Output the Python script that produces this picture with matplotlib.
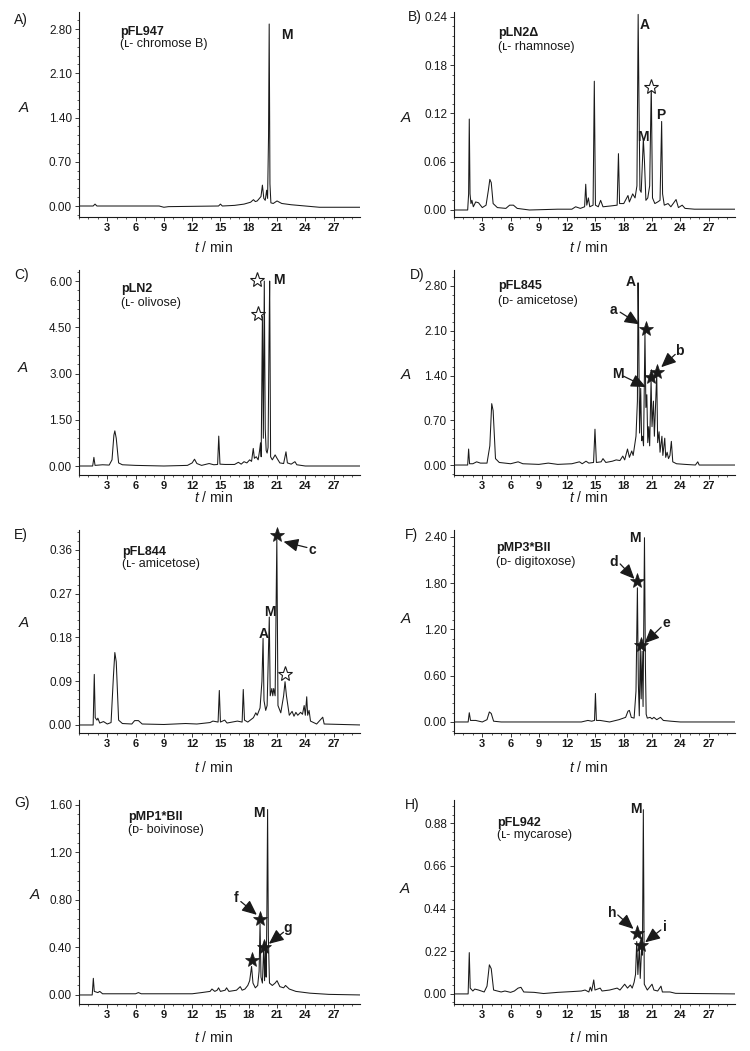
import matplotlib
matplotlib.use("Agg")
import matplotlib.pyplot as plt
import numpy as np
from matplotlib.ticker import MultipleLocator, FormatStrFormatter

plt.rcParams["font.family"] = ["Liberation Sans", "DejaVu Sans"]
plt.rcParams["mathtext.fontset"] = "custom"
plt.rcParams["mathtext.it"] = "Liberation Sans:italic"
plt.rcParams["mathtext.rm"] = "Liberation Sans"

# HPLC traces, (t / min, A) points
trace_a = [(0, 0.0), (1.5, 0.0), (1.7, 0.03), (1.9, 0.0), (8.5, 0.0), (9.0, -0.02), (9.5, -0.01),
           (14.8, 0.0), (15.0, 0.03), (15.2, 0.0), (16.5, 0.01), (17.5, 0.03), (18.2, 0.06),
           (18.5, 0.10), (18.7, 0.07), (18.9, 0.08), (19.3, 0.15), (19.45, 0.33), (19.6, 0.12),
           (19.75, 0.09), (19.9, 0.25), (20.0, 0.12), (20.1, 1.1), (20.17, 2.88), (20.25, 0.35),
           (20.35, 0.05), (20.6, 0.04), (21.0, 0.08), (21.5, 0.04), (22.5, 0.02), (24.0, 0.0),
           (25.5, -0.02), (29.9, -0.02)]

trace_b = [(0, 0.0), (1.45, 0.0), (1.55, 0.02), (1.62, 0.113), (1.7, 0.02), (1.8, 0.008),
           (1.9, 0.012), (2.05, 0.004), (2.3, 0.010), (2.6, 0.009), (3.0, 0.003), (3.4, 0.006),
           (3.65, 0.025), (3.8, 0.038), (3.95, 0.034), (4.15, 0.008), (4.6, 0.003), (5.5, 0.002),
           (5.9, 0.006), (6.3, 0.006), (6.7, 0.002), (8.0, 0.0), (11.0, 0.001), (12.5, 0.001),
           (12.9, 0.004), (13.4, 0.002), (13.85, 0.004), (13.97, 0.032), (14.08, 0.006),
           (14.25, 0.015), (14.4, 0.004), (14.75, 0.006), (14.88, 0.16), (15.0, 0.006),
           (15.3, 0.004), (15.55, 0.012), (15.8, 0.004), (16.6, 0.005), (17.3, 0.006),
           (17.44, 0.07), (17.56, 0.008), (18.0, 0.008), (18.45, 0.018), (18.6, 0.01),
           (18.95, 0.02), (19.2, 0.015), (19.4, 0.03), (19.53, 0.243), (19.62, 0.13),
           (19.72, 0.025), (19.85, 0.022), (20.08, 0.088), (20.2, 0.06), (20.35, 0.012),
           (20.55, 0.015), (20.75, 0.03), (20.92, 0.155), (21.05, 0.015), (21.3, 0.008),
           (21.6, 0.01), (21.85, 0.012), (22.02, 0.11), (22.12, 0.02), (22.3, 0.006),
           (22.7, 0.008), (23.0, 0.004), (23.55, 0.013), (23.8, 0.003), (24.2, 0.006),
           (24.5, 0.002), (25.5, 0.001), (29.9, 0.001)]

trace_c = [(0, 0.0), (1.45, 0.0), (1.58, 0.28), (1.7, 0.02), (2.5, 0.04), (3.2, 0.03), (3.5, 0.2),
           (3.7, 1.0), (3.8, 1.14), (3.95, 0.9), (4.2, 0.1), (4.6, 0.04), (6.0, 0.02), (9.0, 0.0),
           (11.5, 0.02), (12.0, 0.1), (12.25, 0.22), (12.5, 0.08), (13.0, 0.02), (13.8, 0.08),
           (14.3, 0.04), (14.7, 0.05), (14.82, 0.97), (14.95, 0.06), (15.5, 0.05), (16.5, 0.05),
           (16.9, 0.12), (17.2, 0.06), (17.5, 0.14), (17.8, 0.1), (18.1, 0.2), (18.3, 0.15),
           (18.48, 0.57), (18.6, 0.25), (18.8, 0.3), (19.0, 0.2), (19.15, 0.5), (19.25, 0.75),
           (19.32, 0.3), (19.45, 4.85), (19.55, 0.9), (19.65, 6.0), (19.75, 1.2), (19.85, 0.5),
           (19.95, 0.42), (20.05, 0.6), (20.15, 4.0), (20.22, 6.0), (20.32, 0.3), (20.5, 0.2),
           (20.8, 0.36), (21.0, 0.25), (21.3, 0.1), (21.7, 0.08), (21.95, 0.46), (22.1, 0.1),
           (22.5, 0.06), (22.9, 0.14), (23.1, 0.04), (24.0, 0.0), (29.9, 0.0)]

trace_d = [(0, 0.0), (1.45, 0.0), (1.55, 0.25), (1.65, 0.02), (2.0, 0.02), (2.4, 0.05), (2.8, 0.03),
           (3.5, 0.03), (3.8, 0.3), (4.0, 0.96), (4.15, 0.85), (4.4, 0.1), (4.8, 0.04), (6.0, 0.02),
           (6.8, 0.05), (7.3, 0.02), (9.0, 0.01), (10.0, 0.03), (11.0, 0.01), (12.5, 0.02),
           (13.3, 0.05), (13.6, 0.02), (14.0, 0.06), (14.3, 0.03), (14.8, 0.04), (14.95, 0.56),
           (15.1, 0.04), (15.6, 0.05), (15.8, 0.1), (16.1, 0.04), (16.8, 0.06), (17.2, 0.08),
           (17.6, 0.07), (17.9, 0.14), (18.1, 0.08), (18.4, 0.25), (18.6, 0.12), (18.85, 0.22),
           (19.0, 0.15), (19.15, 0.3), (19.3, 0.45), (19.45, 1.0), (19.52, 2.85), (19.58, 2.2),
           (19.68, 0.5), (19.8, 1.2), (19.9, 0.38), (20.0, 0.45), (20.1, 0.3), (20.25, 2.06),
           (20.35, 0.9), (20.45, 1.1), (20.55, 0.35), (20.65, 0.6), (20.75, 0.3), (20.9, 1.33),
           (21.0, 0.6), (21.15, 1.0), (21.25, 0.45), (21.5, 1.42), (21.6, 0.35), (21.75, 0.52),
           (21.85, 0.2), (22.05, 0.45), (22.15, 0.15), (22.35, 0.42), (22.45, 0.12), (22.6, 0.2),
           (22.75, 0.1), (22.9, 0.15), (23.05, 0.37), (23.2, 0.05), (23.6, 0.02), (24.5, 0.01),
           (25.6, 0.0), (25.85, 0.05), (26.0, 0.0), (29.9, 0.0)]

trace_e = [(0, 0.0), (1.5, 0.0), (1.62, 0.104), (1.72, 0.015), (1.9, 0.01), (2.0, 0.014),
           (2.2, 0.004), (2.6, 0.007), (3.0, 0.002), (3.4, 0.005), (3.65, 0.1), (3.8, 0.149),
           (3.95, 0.13), (4.2, 0.01), (4.6, 0.003), (5.6, 0.002), (5.9, 0.009), (6.3, 0.009),
           (6.7, 0.002), (9.0, 0.001), (11.3, 0.003), (12.5, 0.002), (13.9, 0.005), (14.2, 0.008),
           (14.75, 0.006), (14.88, 0.071), (15.0, 0.006), (15.45, 0.01), (15.7, 0.004),
           (16.8, 0.008), (17.3, 0.006), (17.42, 0.073), (17.55, 0.01), (17.9, 0.006),
           (18.5, 0.015), (18.75, 0.025), (18.9, 0.02), (19.2, 0.035), (19.4, 0.09),
           (19.52, 0.178), (19.62, 0.05), (19.8, 0.03), (19.95, 0.04), (20.18, 0.222),
           (20.28, 0.06), (20.45, 0.075), (20.55, 0.06), (20.65, 0.075), (20.8, 0.06),
           (20.98, 0.385), (21.1, 0.04), (21.4, 0.025), (21.7, 0.06), (21.85, 0.089), (22.0, 0.06),
           (22.3, 0.02), (22.6, 0.028), (22.8, 0.018), (23.0, 0.026), (23.2, 0.02), (23.5, 0.026),
           (23.7, 0.022), (23.88, 0.04), (24.0, 0.02), (24.15, 0.058), (24.25, 0.02), (24.4, 0.03),
           (24.55, 0.008), (25.2, 0.002), (25.85, 0.016), (26.0, 0.002), (29.9, 0.0)]

trace_f = [(0, 0.0), (1.5, 0.0), (1.62, 0.12), (1.75, 0.02), (2.3, 0.02), (3.0, 0.0), (3.5, 0.03),
           (3.75, 0.13), (3.95, 0.11), (4.2, 0.01), (5.0, 0.0), (13.5, 0.0), (14.2, 0.02),
           (14.6, 0.01), (14.9, 0.02), (15.0, 0.37), (15.1, 0.02), (15.5, 0.02), (16.5, 0.0),
           (17.5, 0.03), (18.2, 0.06), (18.45, 0.14), (18.6, 0.15), (18.8, 0.06), (19.1, 0.05),
           (19.3, 0.4), (19.45, 1.74), (19.55, 0.5), (19.65, 0.08), (19.75, 0.98), (19.85, 0.3),
           (19.95, 0.92), (20.05, 0.2), (20.2, 2.39), (20.3, 0.72), (20.38, 0.1), (20.5, 0.05),
           (20.8, 0.06), (21.0, 0.04), (21.2, 0.06), (21.5, 0.03), (21.9, 0.06), (22.2, 0.02),
           (23.0, 0.01), (24.0, 0.0), (29.9, 0.0)]

trace_g = [(0, 0.0), (1.4, 0.0), (1.52, 0.14), (1.62, 0.03), (2.0, 0.02), (2.2, 0.03), (2.5, 0.01),
           (4.0, 0.01), (6.0, 0.01), (6.3, 0.02), (6.6, 0.01), (9.0, 0.01), (12.0, 0.01),
           (13.0, 0.02), (13.9, 0.03), (14.1, 0.05), (14.4, 0.03), (14.65, 0.04), (14.8, 0.06),
           (15.0, 0.03), (15.5, 0.04), (15.65, 0.06), (15.9, 0.03), (16.7, 0.04), (17.1, 0.07),
           (17.3, 0.04), (17.6, 0.05), (17.9, 0.08), (18.1, 0.12), (18.3, 0.24), (18.45, 0.1),
           (18.7, 0.06), (18.95, 0.08), (19.1, 0.2), (19.2, 0.6), (19.3, 0.15), (19.45, 0.1),
           (19.6, 0.43), (19.68, 0.12), (19.78, 0.38), (19.85, 0.15), (19.92, 0.66), (20.0, 1.56),
           (20.08, 0.5), (20.2, 0.1), (20.5, 0.08), (20.8, 0.1), (21.0, 0.12), (21.3, 0.07),
           (21.7, 0.06), (21.9, 0.08), (22.3, 0.05), (23.0, 0.03), (24.5, 0.015), (26.5, 0.005),
           (29.9, 0.0)]

trace_h = [(0, 0.0), (1.5, 0.0), (1.62, 0.213), (1.72, 0.03), (2.0, 0.015), (2.2, 0.025),
           (2.6, 0.02), (3.2, 0.01), (3.5, 0.04), (3.75, 0.15), (3.95, 0.13), (4.2, 0.02),
           (5.0, 0.01), (5.4, 0.015), (6.0, 0.008), (6.4, 0.015), (6.8, 0.03), (7.1, 0.034),
           (7.4, 0.01), (8.5, 0.008), (9.5, 0.002), (11.0, 0.008), (12.5, 0.012), (13.5, 0.015),
           (13.9, 0.02), (14.3, 0.01), (14.45, 0.035), (14.6, 0.015), (14.82, 0.072),
           (14.95, 0.02), (15.5, 0.03), (15.7, 0.015), (16.5, 0.02), (17.3, 0.03), (17.6, 0.02),
           (18.1, 0.05), (18.4, 0.03), (18.7, 0.046), (18.9, 0.03), (19.1, 0.06), (19.25, 0.1),
           (19.38, 0.27), (19.5, 0.1), (19.66, 0.25), (19.75, 0.08), (19.9, 0.24), (19.98, 0.2),
           (20.08, 0.95), (20.18, 0.05), (20.5, 0.02), (21.0, 0.05), (21.2, 0.02), (21.6, 0.015),
           (21.95, 0.04), (22.1, 0.01), (22.9, 0.01), (23.5, 0.003), (29.9, 0.0)]

traces = [trace_a, trace_b, trace_c, trace_d, trace_e, trace_f, trace_g, trace_h]

panel_letters = ["A)", "B)", "C)", "D)", "E)", "F)", "G)", "H)"]
plasmids = ["pFL947", "pLN2Δ", "pLN2", "pFL845", "pFL844", "pMP3*BII", "pMP1*BII", "pFL942"]
sugars = ["(ʟ- chromose B)", "(ʟ- rhamnose)", "(ʟ- olivose)", "(ᴅ- amicetose)",
          "(ʟ- amicetose)", "(ᴅ- digitoxose)", "(ᴅ- boivinose)", "(ʟ- mycarose)"]
y_steps = [0.70, 0.06, 1.50, 0.70, 0.09, 0.60, 0.40, 0.22]
y_limits = [(-0.174, 3.07), (-0.0087, 0.246), (-0.292, 6.36), (-0.156, 3.05),
            (-0.0165, 0.401), (-0.143, 2.49), (-0.076, 1.64), (-0.052, 1.0)]

# peak labels (text, t, A)
peak_labels = [
    [("M", 22.0, 2.71)],
    [("A", 20.27, 0.230), ("M", 20.03, 0.091), ("P", 21.97, 0.118)],
    [("M", 21.16, 6.02)],
    [("A", 18.75, 2.86), ("a", 16.9, 2.42), ("M", 17.37, 1.43), ("b", 23.89, 1.79)],
    [("c", 24.77, 0.36), ("M", 20.2, 0.233), ("A", 19.57, 0.188)],
    [("M", 19.2, 2.38), ("d", 16.91, 2.08), ("e", 22.47, 1.28)],
    [("M", 19.04, 1.53), ("f", 16.66, 0.814), ("g", 22.12, 0.561)],
    [("M", 19.28, 0.952), ("h", 16.73, 0.419), ("i", 22.4, 0.347)],
]
open_stars = [[], [(20.91, 0.153)], [(18.86, 6.05), (18.96, 4.94)], [], [(21.87, 0.104)], [], [], []]
filled_stars = [[], [], [], [(20.35, 2.12), (20.91, 1.37), (21.55, 1.46)], [(20.98, 0.391)],
                [(19.46, 1.825), (19.81, 0.995)],
                [(19.21, 0.637), (18.33, 0.295), (19.67, 0.407)],
                [(19.39, 0.313), (19.81, 0.253)]]
# arrows (tail, tip)
arrows = [[], [], [],
          [((17.62, 2.39), (19.67, 2.20)), ((17.97, 1.39), (20.35, 1.22)), ((23.46, 1.73), (21.97, 1.53))],
          [((24.17, 0.365), (21.69, 0.377))],
          [((17.62, 2.05), (19.14, 1.855)), ((21.97, 1.23), (20.2, 1.02))],
          [((17.16, 0.786), (18.86, 0.674)), ((21.69, 0.528), (20.13, 0.43))],
          [((17.37, 0.407), (19.04, 0.335)), ((21.94, 0.33), (20.27, 0.266))]]

# layout in pixels of the 750x1051 figure
W, H = 750, 1051
row_px = [(12, 217), (270, 475), (530, 733), (800, 1004)]
col_px = [79, 454]
ax_w = 281
xlabel_gap = [31, 23, 35, 33]
# plasmid line y (px from top) and sugar line y, x as axes fraction
title_pos = [(0.146, 32, 44), (0.157, 33, 47), (0.149, 289, 303), (0.157, 286, 301),
             (0.153, 552, 564), (0.149, 548, 562), (0.174, 817, 830), (0.153, 823, 835)]
letter_px = [(14, 20), (408, 17), (14, 275), (410, 275), (14, 535), (405, 535), (14, 803), (405, 805)]
ylabel_px = [(18, 108), (400, 118), (17, 368), (400, 375), (18, 623), (400, 619), (29, 895), (399, 889)]

fig = plt.figure(figsize=(W / 100, H / 100), dpi=100)
ink = "#1a1a1a"

for i, trace in enumerate(traces):
    r, c = divmod(i, 2)
    top, bot = row_px[r]
    ax = fig.add_axes([col_px[c] / W, 1 - bot / H, ax_w / W, (bot - top) / H])
    t, a = np.array(trace).T
    ax.plot(t, a, color=ink, lw=0.75)

    ax.set_xlim(0, 29.8)
    ax.set_ylim(*y_limits[i])
    ax.set_xticks(range(3, 28, 3))
    ax.xaxis.set_minor_locator(MultipleLocator(1))
    ax.set_yticks(np.arange(5) * y_steps[i])
    ax.yaxis.set_minor_locator(MultipleLocator(y_steps[i] / 5))
    ax.yaxis.set_major_formatter(FormatStrFormatter("%.2f"))
    ax.tick_params(axis="both", which="major", direction="out", length=3, width=0.6, colors=ink, pad=2)
    ax.tick_params(axis="both", which="minor", direction="out", length=1.5, width=0.5, colors=ink)
    ax.tick_params(axis="x", labelsize=8, pad=1.5)
    ax.tick_params(axis="y", labelsize=8.5)
    for lbl in ax.get_xticklabels():
        lbl.set_fontweight("bold")
    for side in ("top", "right"):
        ax.spines[side].set_visible(False)
    for side in ("left", "bottom"):
        ax.spines[side].set_linewidth(0.8)
        ax.spines[side].set_color(ink)

    h_px = bot - top
    ax.text(0.48, -xlabel_gap[r] / h_px, "$t$ / min", transform=ax.transAxes,
            ha="center", va="center", fontsize=10, color=ink)
    lx, ly = ylabel_px[i]
    fig.text(lx / W, 1 - ly / H, "$A$", ha="left", va="center", fontsize=11, color=ink)
    px, py = letter_px[i]
    fig.text(px / W, 1 - py / H, panel_letters[i], ha="left", va="center", fontsize=10, color=ink)

    tx, ty1, ty2 = title_pos[i]
    ax.text(tx, (bot - ty1) / h_px, plasmids[i], transform=ax.transAxes, ha="left", va="center",
            fontsize=9, fontweight="bold", color=ink)
    ax.text(tx, (bot - ty2) / h_px, sugars[i], transform=ax.transAxes, ha="left", va="center",
            fontsize=9, color=ink)

    for txt, x, y in peak_labels[i]:
        ax.text(x, y, txt, ha="center", va="center", fontsize=10, fontweight="bold", color=ink)
    for x, y in open_stars[i]:
        ax.plot(x, y, marker="*", ms=11, mfc="white", mec=ink, mew=0.8, clip_on=False)
    for x, y in filled_stars[i]:
        ax.plot(x, y, marker="*", ms=11, mfc=ink, mec=ink, mew=0.5, clip_on=False)
    for tail, tip in arrows[i]:
        ax.annotate("", xy=tip, xytext=tail,
                    arrowprops=dict(arrowstyle="-|>,head_length=0.9,head_width=0.4",
                                    color=ink, lw=0.9, shrinkA=0, shrinkB=0))

fig.savefig("out.png", dpi=100, facecolor="white")
